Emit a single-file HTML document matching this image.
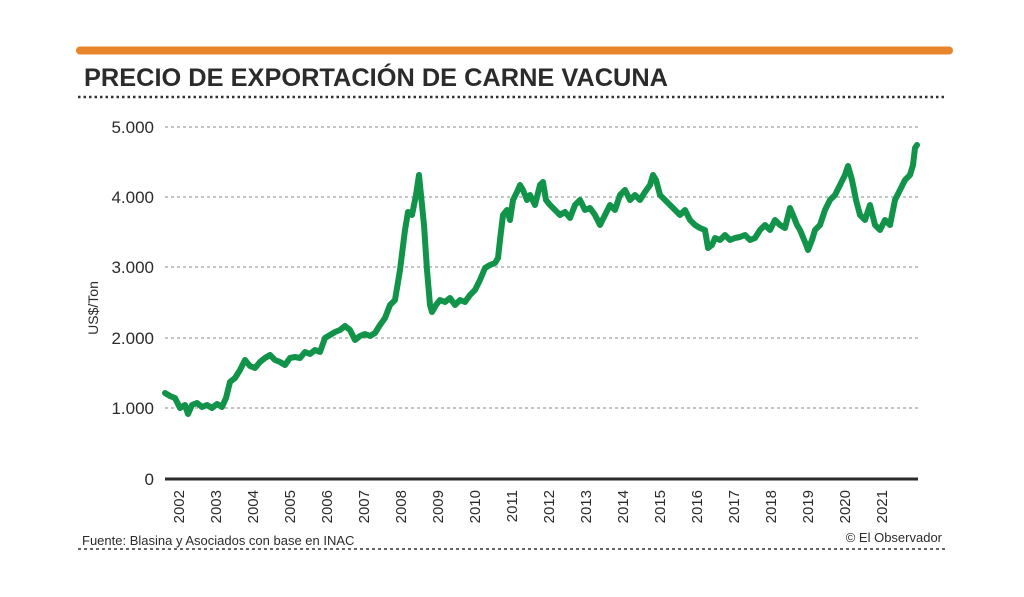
<!DOCTYPE html>
<html><head><meta charset="utf-8"><style>
body{margin:0;background:#fff;}
svg{display:block;font-family:"Liberation Sans",sans-serif;}
</style></head><body>
<svg width="1024" height="597" viewBox="0 0 1024 597">
<rect x="0" y="0" width="1024" height="597" fill="#fff"/>
<line x1="80" y1="50.5" x2="949" y2="50.5" stroke="#e8852b" stroke-width="8" stroke-linecap="round"/>
<text x="84" y="86" font-size="25" font-weight="bold" fill="#2b2b2b" textLength="584" lengthAdjust="spacingAndGlyphs">PRECIO DE EXPORTACIÓN DE CARNE VACUNA</text>
<line x1="78" y1="97" x2="946" y2="97" stroke="#333" stroke-width="2.5" stroke-dasharray="2.5,3"/>
<g stroke="#888" stroke-width="1" stroke-dasharray="3,3">
<line x1="165" y1="127" x2="918" y2="127"/>
<line x1="165" y1="197" x2="918" y2="197"/>
<line x1="165" y1="267" x2="918" y2="267"/>
<line x1="165" y1="338" x2="918" y2="338"/>
<line x1="165" y1="408" x2="918" y2="408"/>
</g>
<line x1="165" y1="479" x2="918" y2="479" stroke="#2b2b2b" stroke-width="3"/>
<g font-size="17" fill="#2b2b2b" text-anchor="end">
<text x="154" y="133">5.000</text>
<text x="154" y="203">4.000</text>
<text x="154" y="273">3.000</text>
<text x="154" y="344">2.000</text>
<text x="154" y="414">1.000</text>
<text x="154" y="485">0</text>
</g>
<text transform="translate(98,308) rotate(-90)" font-size="14" fill="#2b2b2b" text-anchor="middle">US$/Ton</text>
<g font-size="15" fill="#2b2b2b" text-anchor="end">
<text transform="translate(184,490) rotate(-90)">2002</text>
<text transform="translate(221,490) rotate(-90)">2003</text>
<text transform="translate(258,490) rotate(-90)">2004</text>
<text transform="translate(295,490) rotate(-90)">2005</text>
<text transform="translate(332,490) rotate(-90)">2006</text>
<text transform="translate(369,490) rotate(-90)">2007</text>
<text transform="translate(406,490) rotate(-90)">2008</text>
<text transform="translate(443,490) rotate(-90)">2009</text>
<text transform="translate(480,490) rotate(-90)">2010</text>
<text transform="translate(517,490) rotate(-90)">2011</text>
<text transform="translate(554,490) rotate(-90)">2012</text>
<text transform="translate(591,490) rotate(-90)">2013</text>
<text transform="translate(628,490) rotate(-90)">2014</text>
<text transform="translate(665,490) rotate(-90)">2015</text>
<text transform="translate(702,490) rotate(-90)">2016</text>
<text transform="translate(739,490) rotate(-90)">2017</text>
<text transform="translate(776,490) rotate(-90)">2018</text>
<text transform="translate(813,490) rotate(-90)">2019</text>
<text transform="translate(850,490) rotate(-90)">2020</text>
<text transform="translate(887,490) rotate(-90)">2021</text>
</g>
<polyline fill="none" stroke="#11944a" stroke-width="6" stroke-linejoin="round" stroke-linecap="round" points="165,393 170,396 175,398 180,408 185,405 188,414 192,405 197,403 202,407 207,405 212,408 217,404 222,407 226,398 230,382 235,378 240,370 245,360 250,366 255,368 260,362 265,358 270,355 275,360 280,362 285,365 290,358 295,357 300,358 305,352 310,354 315,350 320,352 325,338 330,335 335,332 340,330 345,326 350,330 355,340 360,336 365,334 370,336 375,333 380,325 385,318 390,305 395,300 400,270 405,230 408,212 412,215 416,195 419,175 421,195 424,225 427,270 430,305 432,312 436,305 440,300 445,302 450,298 455,305 460,300 465,302 470,295 475,290 480,280 485,268 490,265 495,263 498,258 500,240 503,215 507,210 510,220 513,200 517,192 520,185 523,190 527,200 530,195 535,205 540,185 543,182 546,200 550,205 555,210 560,215 565,212 570,218 575,205 580,200 585,210 590,208 595,215 600,225 605,215 610,205 615,210 620,195 625,190 630,200 635,195 640,200 645,192 650,185 653,175 656,180 660,195 665,200 670,205 675,210 680,215 685,210 690,220 695,225 700,228 705,230 708,248 712,245 715,238 720,240 725,235 730,240 735,238 740,237 745,235 750,240 755,238 760,230 765,225 770,230 775,220 780,225 785,228 790,208 793,215 797,225 800,230 805,242 808,250 812,240 815,230 820,225 825,210 830,200 835,195 840,185 845,175 848,166 852,180 856,200 860,215 865,220 870,205 875,225 880,230 885,220 890,225 895,200 900,190 905,180 910,175 913,165 915,148 917,145"/>
<text x="82" y="545" font-size="13" fill="#2b2b2b">Fuente: Blasina y Asociados con base en INAC</text>
<text x="942" y="542" font-size="13" fill="#2b2b2b" text-anchor="end">© El Observador</text>
<line x1="78" y1="549" x2="946" y2="549" stroke="#333" stroke-width="1.5" stroke-dasharray="3,3"/>
</svg>
</body></html>
